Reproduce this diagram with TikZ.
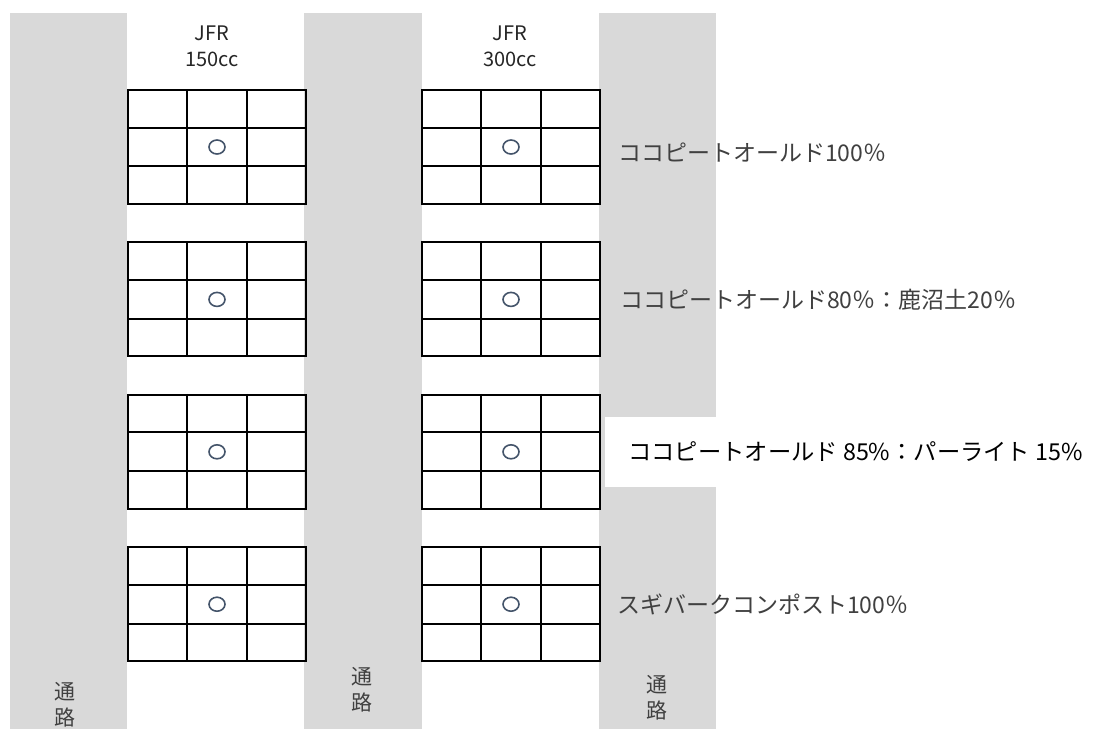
\documentclass[tikz,border=0pt]{standalone}
\usepackage{fontspec}
\setmainfont{Noto Sans CJK JP}
\definecolor{AisleGray}{HTML}{D9D9D9}
\definecolor{LabelGray}{HTML}{404040}
\definecolor{SeedBlue}{HTML}{44546A}
\usetikzlibrary{positioning, calc}

\begin{document}
\begin{tikzpicture}[x=1pt, y=-1pt,
  aisle/.style={fill=AisleGray, draw=none},
  tray/.style={draw=black, line width=2pt, minimum width=178pt, minimum height=114pt, inner sep=0pt, anchor=north west},
  cell/.style={draw=black, line width=2pt},
  seed/.style={draw=SeedBlue, line width=1.6pt},
  hdr/.style={font=\fontsize{20}{26}\selectfont, text=black!85, align=center},
  mix/.style={font=\fontsize{23}{28}\selectfont, text=LabelGray, anchor=west, inner sep=0pt},
  walk/.style={font=\fontsize{21}{26}\selectfont, text=LabelGray, align=center, inner sep=0pt},
]
  \useasboundingbox (0,0) rectangle (1094,729);
  \fill[white] (0,0) rectangle (1094,729);
  % aisles
  \fill[aisle] (10,13) rectangle (127,729);
  \fill[aisle] (304,13) rectangle (422,729);
  \fill[aisle] (599,13) rectangle (716,729);
  % trays
  \foreach \col/\x in {a/127, b/421} {
    \foreach \row in {0,...,3} {
      \pgfmathsetmacro{\t}{89+152.4*\row}
      \node[tray] (tray-\col\row) at (\x,\t) {};
      \draw[cell] ($(tray-\col\row.north west)!1/3!(tray-\col\row.north east)$) -- ($(tray-\col\row.south west)!1/3!(tray-\col\row.south east)$);
      \draw[cell] ($(tray-\col\row.north west)!2/3!(tray-\col\row.north east)$) -- ($(tray-\col\row.south west)!2/3!(tray-\col\row.south east)$);
      \draw[cell] ($(tray-\col\row.north west)!1/3!(tray-\col\row.south west)$) -- ($(tray-\col\row.north east)!1/3!(tray-\col\row.south east)$);
      \draw[cell] ($(tray-\col\row.north west)!2/3!(tray-\col\row.south west)$) -- ($(tray-\col\row.north east)!2/3!(tray-\col\row.south east)$);
      \draw[seed] (tray-\col\row.center) ellipse (8 and 7);
    }
  }
  % headers
  \node[hdr] (hdrA) at (212,46) {JFR\\150cc};
  \node[hdr] (hdrB) at (510,46) {JFR\\300cc};
  % mixes
  \node[mix] (mix1) at (618,153) {ココピートオールド100％};
  \node[mix] (mix2) at (620,300) {ココピートオールド80％：鹿沼土20％};
  \fill[white] (605,417) rectangle (1094,487);
  \node[mix, text=black, font=\fontsize{23.3}{28}\selectfont] (mix3) at (628,452) {ココピートオールド 85\%：パーライト 15\%};
  \node[mix] (mix4) at (617,604) {スギバークコンポスト100％};
  % aisle labels
  \node[walk] (walkA) at (65,705) {通\\路};
  \node[walk] (walkB) at (362,690) {通\\路};
  \node[walk] (walkC) at (657,698) {通\\路};
\end{tikzpicture}
\end{document}
